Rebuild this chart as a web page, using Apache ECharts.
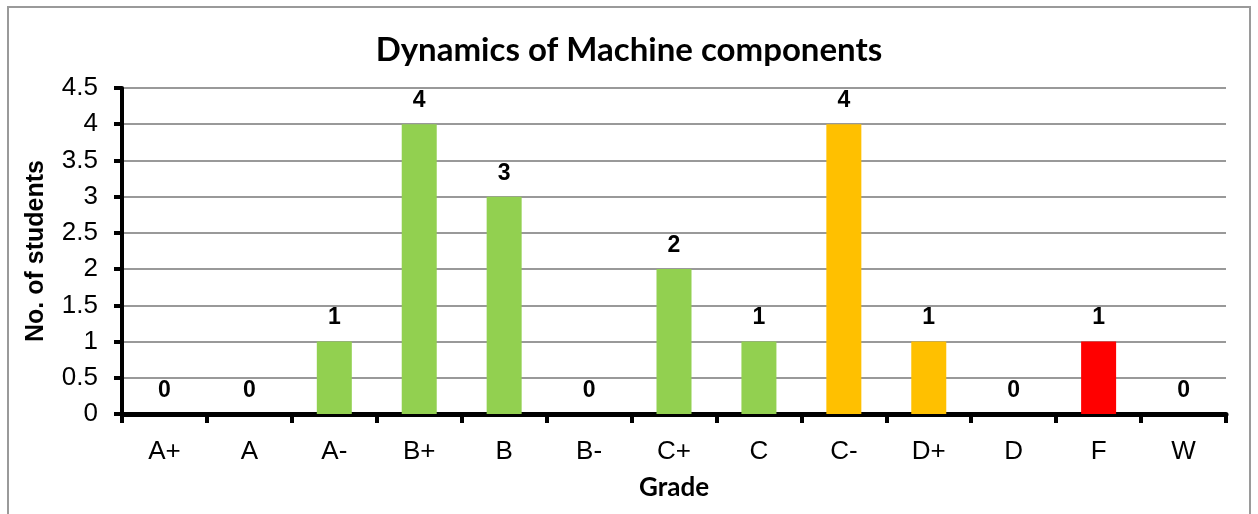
<!DOCTYPE html>
<html>
<head>
<meta charset="utf-8">
<script src="https://cdn.jsdelivr.net/npm/echarts@6/dist/echarts.min.js"></script>
<style>
  html, body { margin: 0; padding: 0; background: #fff; }
  #frame {
    position: absolute; left: 7px; top: 6px; width: 1244px; height: 520px;
    border: 2px solid #9a9a9a; box-sizing: border-box;
  }
  #the-chart { width: 1258px; height: 514px; position: absolute; left: 0; top: 0; }
</style>
</head>
<body>
<div id="frame"></div>
<div id="the-chart"></div>
<script>
// grades and student counts
const grades = ['A+', 'A', 'A-', 'B+', 'B', 'B-', 'C+', 'C', 'C-', 'D+', 'D', 'F', 'W']
const students = [0, 0, 1, 4, 3, 0, 2, 1, 4, 1, 0, 1, 0]
const barColors = ['#92D050', '#92D050', '#92D050', '#92D050', '#92D050', '#92D050', '#92D050', '#92D050',
  '#FFC000', '#FFC000', '#FFC000', '#FF0000', '#FF0000']

let chart = echarts.init(document.getElementById('the-chart'))
chart.setOption({
  animation: false,
  title: {
    text: 'Dynamics of Machine components',
    left: 'center',
    top: 29,
    textStyle: { fontFamily: 'Lato', fontWeight: 'bold', fontSize: 33, color: '#000' }
  },
  grid: { left: 122, right: 32, top: 88, bottom: 100 },
  xAxis: {
    type: 'category',
    data: grades,
    name: 'Grade',
    nameLocation: 'middle',
    nameGap: 61,
    nameTextStyle: { fontFamily: 'Lato', fontWeight: 'bold', fontSize: 26, color: '#000' },
    axisLine: { lineStyle: { color: '#000', width: 5 } },
    axisTick: { show: true, length: 9, lineStyle: { color: '#000', width: 4 } },
    axisLabel: { margin: 25, fontFamily: 'Liberation Sans', fontSize: 26, color: '#000' }
  },
  yAxis: {
    type: 'value',
    min: 0,
    max: 4.5,
    interval: 0.5,
    name: 'No. of students',
    nameLocation: 'middle',
    nameGap: 73,
    nameTextStyle: { fontFamily: 'Liberation Sans', fontWeight: 'bold', fontSize: 25, color: '#000' },
    axisLine: { show: true, lineStyle: { color: '#000', width: 4 } },
    axisTick: { show: true, length: 8, lineStyle: { color: '#000', width: 4 } },
    axisLabel: { margin: 24, fontFamily: 'Liberation Sans', fontSize: 26, color: '#000' },
    splitLine: { lineStyle: { color: '#999', width: 2 } }
  },
  series: [{
    type: 'bar',
    barWidth: 35,
    data: students.map((v, i) => ({ value: v, itemStyle: { color: barColors[i] } })),
    label: {
      show: true,
      position: 'top',
      distance: 12,
      fontFamily: 'Liberation Sans',
      fontWeight: 'bold',
      fontSize: 23,
      color: '#000'
    }
  }]
})
</script>
</body>
</html>
